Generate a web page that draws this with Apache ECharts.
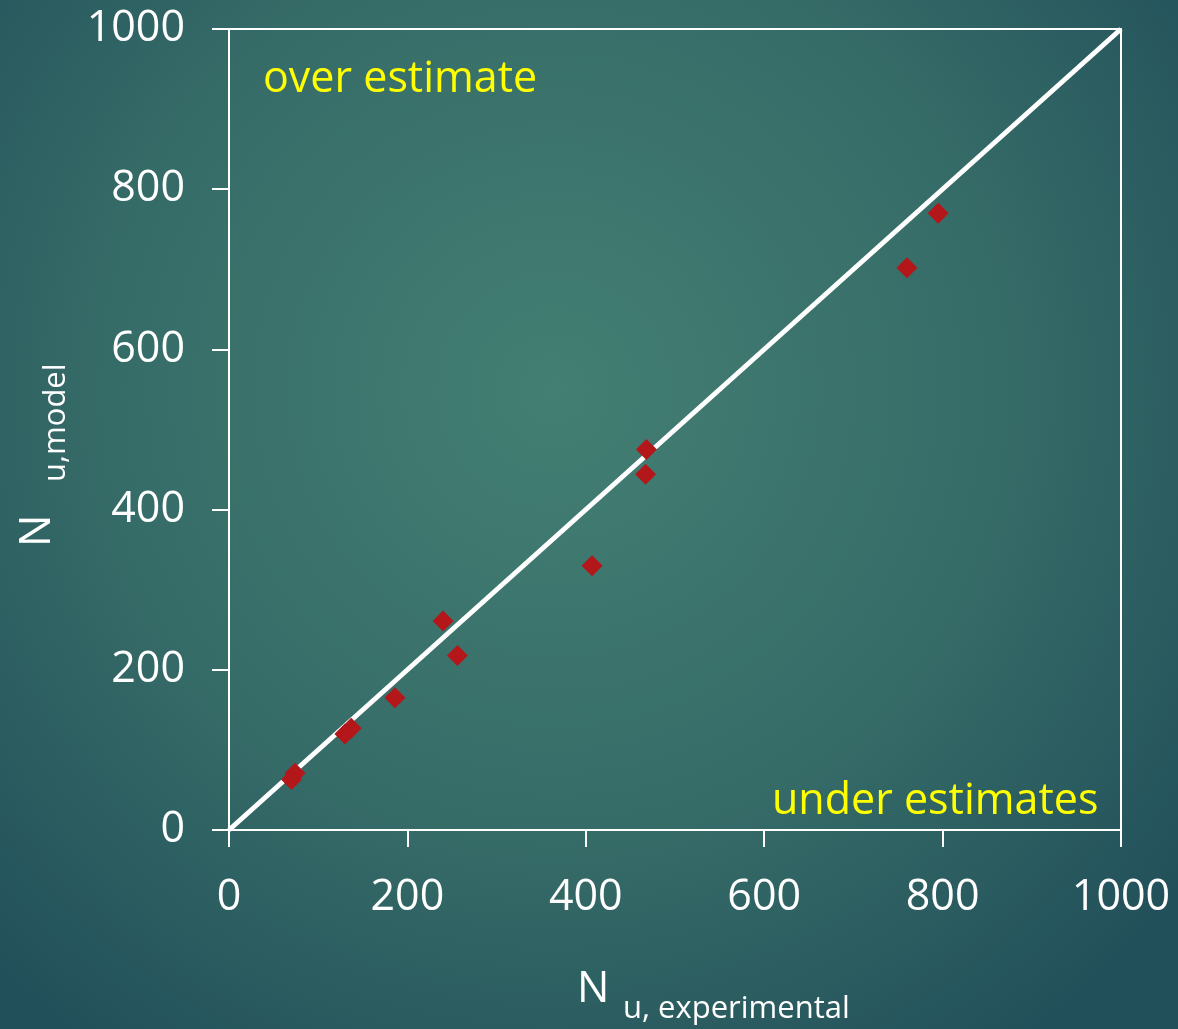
<!DOCTYPE html>
<html>
<head>
<meta charset="utf-8">
<style>
  html, body { margin: 0; padding: 0; width: 1178px; height: 1029px; overflow: hidden; background: #2b5f62; }
  #chart { width: 1178px; height: 1029px; }
</style>
<script src="https://cdn.jsdelivr.net/npm/echarts@6/dist/echarts.min.js"></script>
</head>
<body>
<div id="chart"></div>
<script>
// Measured vs. predicted capacity
const experimental = [70, 74, 130, 137, 186, 240, 256, 407, 467, 468, 760, 795];
const model        = [63, 71, 120, 127, 165, 261, 218, 330, 444, 475, 702, 770];
// Line of perfect agreement
const equalityLine = [[0, 0], [1000, 1000]];
const axisTicks = [0, 200, 400, 600, 800, 1000];

const FONT = '"Open Sans", sans-serif';
const chart = echarts.init(document.getElementById('chart'));

const axisCommon = {
  min: axisTicks[0],
  max: axisTicks[axisTicks.length - 1],
  interval: axisTicks[1] - axisTicks[0],
  axisLine: { show: true, onZero: false, lineStyle: { color: '#ffffff', width: 2 } },
  axisTick: { show: true, inside: false, length: 17, lineStyle: { color: '#ffffff', width: 2 } },
  splitLine: { show: false },
  axisLabel: { color: '#ffffff', fontSize: 43, fontFamily: FONT, formatter: v => String(v) }
};

chart.setOption({
  backgroundColor: {
    type: 'radial', x: 0.47, y: 0.38, r: 0.78,
    colorStops: [
      { offset: 0, color: '#437f73' },
      { offset: 0.55, color: '#366c68' },
      { offset: 1, color: '#22505a' }
    ]
  },
  animation: false,
  grid: {
    left: 229, top: 29, right: 57, bottom: 199,
    show: true, borderColor: '#ffffff', borderWidth: 2, backgroundColor: 'transparent'
  },
  xAxis: Object.assign({}, axisCommon, {
    type: 'value',
    axisLabel: Object.assign({}, axisCommon.axisLabel, { margin: 46 })
  }),
  yAxis: Object.assign({}, axisCommon, {
    type: 'value',
    axisLabel: Object.assign({}, axisCommon.axisLabel, { margin: 44, padding: [5, 0, 0, 0] })
  }),
  series: [
    {
      type: 'line',
      data: equalityLine,
      symbol: 'none',
      lineStyle: { color: '#ffffff', width: 5 },
      z: 2,
      silent: true
    },
    {
      type: 'scatter',
      data: experimental.map((x, i) => [x, model[i]]),
      symbol: 'diamond',
      symbolSize: 21,
      itemStyle: { color: '#b3171a', opacity: 1 },
      z: 3
    }
  ],
  graphic: [
    {
      type: 'text', left: 263, top: 58,
      style: { text: 'over estimate', fill: '#ffff00', fontSize: 43, fontFamily: FONT }
    },
    {
      type: 'text', x: 772, y: 802,
      style: { text: 'under estimates', fill: '#ffff00', fontSize: 43, fontFamily: FONT,
               align: 'left', verticalAlign: 'middle' }
    },
    // x-axis title: N with subscript
    {
      type: 'text', x: 577, y: 990,
      style: { text: 'N', fill: '#ffffff', fontSize: 43, fontFamily: FONT, align: 'left', verticalAlign: 'middle' }
    },
    {
      type: 'text', x: 623, y: 1009,
      style: { text: 'u, experimental', fill: '#ffffff', fontSize: 31, fontFamily: FONT, align: 'left', verticalAlign: 'middle' }
    },
    // y-axis title: N with subscript, rotated
    {
      type: 'text', x: 38, y: 547, rotation: Math.PI / 2,
      style: { text: 'N', fill: '#ffffff', fontSize: 43, fontFamily: FONT, align: 'left', verticalAlign: 'middle' }
    },
    {
      type: 'text', x: 56, y: 482, rotation: Math.PI / 2,
      style: { text: 'u,model', fill: '#ffffff', fontSize: 31, fontFamily: FONT, align: 'left', verticalAlign: 'middle' }
    }
  ]
});
</script>
</body>
</html>
